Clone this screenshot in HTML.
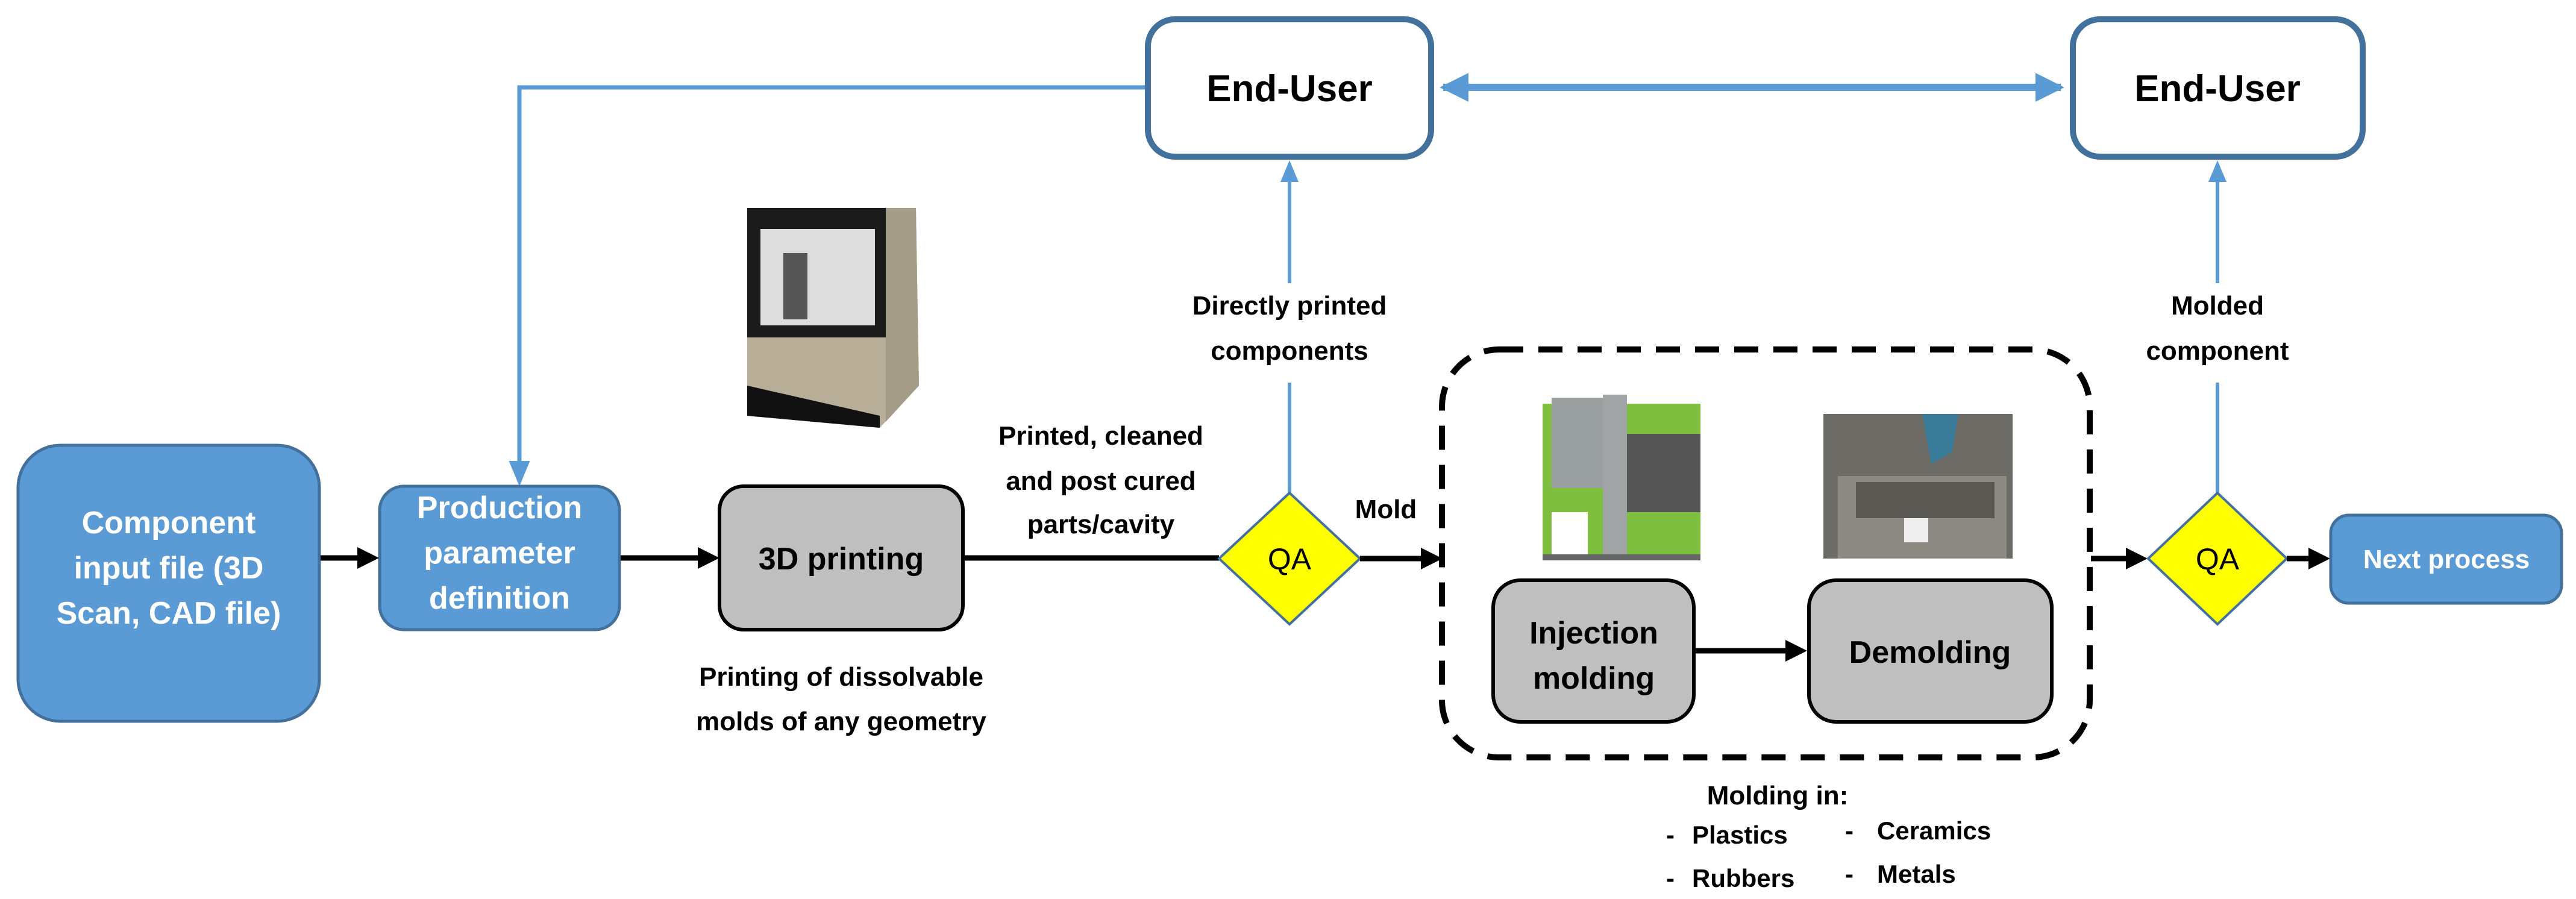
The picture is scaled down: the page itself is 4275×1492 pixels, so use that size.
<!DOCTYPE html>
<html><head><meta charset="utf-8"><style>
html,body{margin:0;padding:0;background:#fff}
svg{display:block}
text{font-family:"Liberation Sans",sans-serif;font-weight:bold;text-anchor:middle}
text.s{text-anchor:start}
</style></head><body>
<svg width="4275" height="1492" viewBox="0 0 4275 1492" xmlns="http://www.w3.org/2000/svg">
<defs>
<marker id="ab" markerWidth="4" markerHeight="4" refX="3" refY="2" orient="auto" markerUnits="strokeWidth"><path d="M0,0 L4,2 L0,4 z" fill="#000"/></marker>
<marker id="bl" markerWidth="6" markerHeight="6" refX="5" refY="3" orient="auto" markerUnits="strokeWidth"><path d="M0,0.5 L6,3 L0,5.5 z" fill="#5B9BD5"/></marker>
<marker id="bl2" markerWidth="4" markerHeight="4" refX="3.5" refY="2" orient="auto-start-reverse" markerUnits="strokeWidth"><path d="M0,0 L4,2 L0,4 z" fill="#5B9BD5"/></marker>
</defs>

<polyline points="1900,145 862,145 862,800" fill="none" stroke="#5B9BD5" stroke-width="7" marker-end="url(#bl)"/>
<line x1="2395" y1="145" x2="3420" y2="145" stroke="#5B9BD5" stroke-width="12" marker-start="url(#bl2)" marker-end="url(#bl2)"/>
<line x1="2140" y1="470" x2="2140" y2="272" stroke="#5B9BD5" stroke-width="6" marker-end="url(#bl)"/>
<line x1="2140" y1="635" x2="2140" y2="818" stroke="#5B9BD5" stroke-width="6"/>
<line x1="3680" y1="470" x2="3680" y2="272" stroke="#5B9BD5" stroke-width="6" marker-end="url(#bl)"/>
<line x1="3680" y1="635" x2="3680" y2="818" stroke="#5B9BD5" stroke-width="6"/>

<rect x="1905" y="32" width="470" height="228" rx="45" fill="#fff" stroke="#41719C" stroke-width="10"/>
<text x="2140" y="168" font-size="62">End-User</text>
<rect x="3440" y="32" width="481" height="228" rx="45" fill="#fff" stroke="#41719C" stroke-width="10"/>
<text x="3680" y="168" font-size="62">End-User</text>

<text x="2140" y="522" font-size="44">Directly printed</text>
<text x="2140" y="597" font-size="44">components</text>
<text x="3680" y="522" font-size="44">Molded</text>
<text x="3680" y="597" font-size="44">component</text>

<g>
<polygon points="1240,345 1520,345 1525,640 1460,710 1240,690" fill="#b8ae98"/>
<polygon points="1240,345 1470,345 1470,560 1240,560" fill="#1a1a1a"/>
<rect x="1262" y="380" width="190" height="160" fill="#ddd"/>
<rect x="1300" y="420" width="40" height="110" fill="#555"/>
<polygon points="1470,345 1520,345 1525,640 1470,700" fill="#a59c88"/>
<polygon points="1240,640 1460,690 1460,710 1240,690" fill="#111"/>
</g>

<rect x="30" y="739" width="500" height="458" rx="70" fill="#5B9BD5" stroke="#41719C" stroke-width="5"/>
<g fill="#fff" font-size="52"><text x="280" y="885">Component</text><text x="280" y="960">input file (3D</text><text x="280" y="1035">Scan, CAD file)</text></g>
<rect x="630" y="807" width="398" height="238" rx="40" fill="#5B9BD5" stroke="#41719C" stroke-width="5"/>
<g fill="#fff" font-size="52"><text x="829" y="860">Production</text><text x="829" y="935">parameter</text><text x="829" y="1010">definition</text></g>
<rect x="1194" y="807" width="404" height="238" rx="40" fill="#BFBFBF" stroke="#000" stroke-width="6"/>
<text x="1396" y="945" font-size="52">3D printing</text>

<line x1="532" y1="926" x2="620" y2="926" stroke="#000" stroke-width="9" marker-end="url(#ab)"/>
<line x1="1030" y1="926" x2="1185" y2="926" stroke="#000" stroke-width="9" marker-end="url(#ab)"/>
<line x1="1600" y1="926" x2="2023" y2="926" stroke="#000" stroke-width="9"/>

<text x="1827" y="738" font-size="44">Printed, cleaned</text>
<text x="1827" y="813" font-size="44">and post cured</text>
<text x="1827" y="885" font-size="44">parts/cavity</text>
<text x="1396" y="1138" font-size="44">Printing of dissolvable</text>
<text x="1396" y="1212" font-size="44">molds of any geometry</text>

<polygon points="2140,818 2257,927 2140,1036 2023,927" fill="#FFFF00" stroke="#41719C" stroke-width="4"/>
<text x="2140" y="945" font-size="50" style="font-weight:normal">QA</text>
<line x1="2257" y1="927" x2="2385" y2="927" stroke="#000" stroke-width="9" marker-end="url(#ab)"/>
<text x="2300" y="860" font-size="44">Mold</text>

<rect x="2393" y="580" width="1075" height="677" rx="95" fill="none" stroke="#000" stroke-width="10" stroke-dasharray="40,25"/>

<g>
<rect x="2560" y="670" width="262" height="260" fill="#7fbf3f"/>
<rect x="2575" y="660" width="120" height="150" fill="#9aa0a0"/>
<rect x="2660" y="655" width="40" height="270" fill="#a0a4a4"/>
<rect x="2700" y="720" width="122" height="130" fill="#555"/>
<rect x="2575" y="850" width="60" height="70" fill="#fff"/>
<rect x="2560" y="920" width="262" height="10" fill="#666"/>
</g>
<g>
<rect x="3026" y="687" width="314" height="240" fill="#6d6b66"/>
<rect x="3050" y="790" width="280" height="137" fill="#8d8a84"/>
<rect x="3080" y="800" width="230" height="60" fill="#5a5853"/>
<polygon points="3190,687 3250,687 3240,750 3205,770" fill="#3b7c9a"/>
<rect x="3160" y="860" width="40" height="40" fill="#eee"/>
</g>

<rect x="2478" y="963" width="333" height="235" rx="45" fill="#BFBFBF" stroke="#000" stroke-width="6"/>
<text x="2645" y="1068" font-size="52">Injection</text>
<text x="2645" y="1143" font-size="52">molding</text>
<rect x="3002" y="963" width="403" height="235" rx="45" fill="#BFBFBF" stroke="#000" stroke-width="6"/>
<text x="3203" y="1100" font-size="52">Demolding</text>
<line x1="2811" y1="1080" x2="2990" y2="1080" stroke="#000" stroke-width="9" marker-end="url(#ab)"/>

<text x="2950" y="1335" font-size="44">Molding in:</text>
<g font-size="42">
<text class="s" x="2765" y="1400">-</text><text class="s" x="2808" y="1400">Plastics</text>
<text class="s" x="3062" y="1393">-</text><text class="s" x="3115" y="1393">Ceramics</text>
<text class="s" x="2765" y="1472">-</text><text class="s" x="2808" y="1472">Rubbers</text>
<text class="s" x="3062" y="1465">-</text><text class="s" x="3115" y="1465">Metals</text>
</g>

<line x1="3470" y1="927" x2="3555" y2="927" stroke="#000" stroke-width="9" marker-end="url(#ab)"/>
<polygon points="3680,818 3795,927 3680,1036 3565,927" fill="#FFFF00" stroke="#41719C" stroke-width="4"/>
<text x="3680" y="945" font-size="50" style="font-weight:normal">QA</text>
<line x1="3795" y1="927" x2="3858" y2="927" stroke="#000" stroke-width="9" marker-end="url(#ab)"/>

<rect x="3868" y="855" width="383" height="146" rx="30" fill="#5B9BD5" stroke="#41719C" stroke-width="5"/>
<text x="4060" y="943" font-size="44" fill="#fff">Next process</text>
</svg>
</body></html>
